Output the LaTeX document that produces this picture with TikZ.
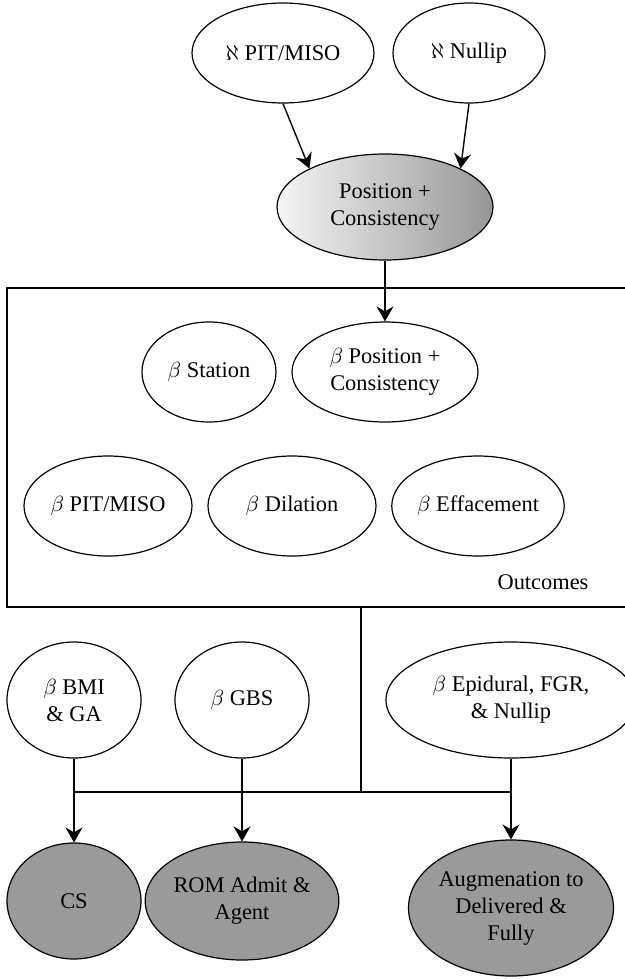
\documentclass[tikz,border=0pt]{standalone}
\usepackage{fontspec}
\setmainfont{Liberation Serif}
\usetikzlibrary{shapes.geometric,arrows.meta}
\definecolor{nodegray}{RGB}{154,154,154}
\definecolor{shadelight}{RGB}{245,245,245}
\definecolor{shadedark}{RGB}{150,150,150}
\tikzset{
  ell/.style={draw, ellipse, line width=0.6pt, inner sep=0pt, align=center,
    font=\fontsize{11.2}{13.5}\selectfont},
  obs/.style={ell, fill=nodegray},
  arr/.style={-{Stealth[length=7.5pt,width=8.5pt,inset=2.5pt]}, line width=0.7pt},
  ln/.style={line width=0.7pt}
}
\begin{document}
\begin{tikzpicture}[x=0.5pt,y=-0.5pt]
\useasboundingbox (0,0) rectangle (625,979);
% top
\node[ell, minimum width=91pt, minimum height=50pt] (a1) at (283,53) {$\aleph$ PIT/MISO};
\node[ell, minimum width=76pt, minimum height=50pt] (a2) at (469,53) {$\aleph$ Nullip};
\node[ell, left color=shadelight, right color=shadedark, minimum width=108pt, minimum height=53pt] (pc) at (385,207) {Position +\\Consistency};
\draw[arr] (a1.south) -- (pc.153);
\draw[arr] (a2.south) -- (pc.27);
% outcomes box
\node[draw, line width=0.7pt, minimum width=319pt, minimum height=159.5pt, inner sep=0pt] (outbox) at (326,447.5) {};
\node[ell, minimum width=67pt, minimum height=50pt] (bs) at (209,372) {$\beta$ Station};
\node[ell, minimum width=93pt, minimum height=50pt] (bpc) at (385,372) {$\beta$ Position +\\Consistency};
\node[ell, minimum width=84pt, minimum height=50pt] (bpit) at (108,506) {$\beta$ PIT/MISO};
\node[ell, minimum width=84pt, minimum height=50pt] (bdil) at (292,506) {$\beta$ Dilation};
\node[ell, minimum width=84pt, minimum height=50pt] (beff) at (478,506) {$\beta$ Effacement};
\node[font=\fontsize{11.2}{13.5}\selectfont, inner sep=0pt] (outlbl) at (543,582) {Outcomes};
\draw[arr] (pc.south) -- (bpc.north);
% lower
\node[ell, minimum width=67pt, minimum height=58pt] (bbmi) at (74,700) {$\beta$ BMI\\\& GA};
\node[ell, minimum width=67pt, minimum height=58pt] (bgbs) at (242,700) {$\beta$ GBS};
\node[ell, minimum width=125pt, minimum height=58pt] (bepi) at (511,700) {$\beta$ Epidural, FGR,\\\& Nullip};
\node[obs, minimum width=67pt, minimum height=58pt] (cs) at (74,901) {CS};
\node[obs, minimum width=84pt, minimum height=59pt] (rom) at (242,901) {ROM Admit \&\\Agent};
\node[obs, minimum width=101pt, minimum height=68pt] (aug) at (511,908) {Augmenation to\\Delivered \&\\Fully};
\coordinate (bus) at (361,792);
\draw[ln] (bus |- outbox.south) -- (bus);
\draw[ln] (bbmi.south |- bus) -- (bepi.south |- bus);
\draw[arr] (bbmi) -- (cs);
\draw[arr] (bgbs) -- (rom);
\draw[arr] (bepi) -- (aug);
\end{tikzpicture}
\end{document}
